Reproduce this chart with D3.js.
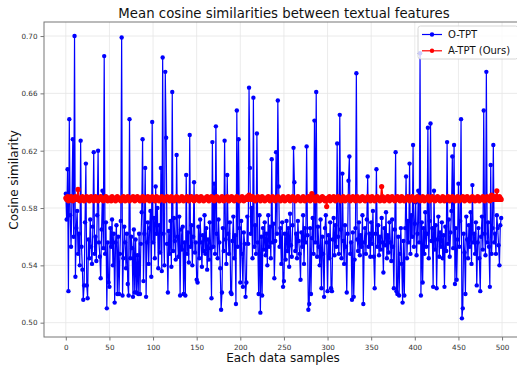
<!DOCTYPE html>
<html><head><meta charset="utf-8">
<script src="https://cdn.jsdelivr.net/npm/d3@7"></script>
<style>body{margin:0;background:#fff}svg{display:block;font-family:"DejaVu Sans",sans-serif}</style>
</head><body><svg id="c" width="517" height="365"></svg>
<script>
const title = "Mean cosine similarities between textual features";
const xLabel = "Each data samples";
const yLabel = "Cosine similarity";
const xTicks = [0,50,100,150,200,250,300,350,400,450,500];
const yTicks = [0.50,0.54,0.58,0.62,0.66,0.70];
const seriesNames = ["O-TPT","A-TPT (Ours)"];
const seriesColors = ["#0000ff","#ff0000"];
const otpt = [
0.590,0.572,0.607,0.522,0.642,0.575,0.553,0.585,0.628,0.560,
0.700,0.532,0.566,0.578,0.548,0.562,0.540,0.627,0.553,0.537,
0.516,0.526,0.570,0.611,0.526,0.517,0.558,0.545,0.572,0.553,
0.541,0.567,0.619,0.548,0.560,0.543,0.575,0.620,0.556,0.546,
0.531,0.565,0.592,0.552,0.686,0.548,0.570,0.510,0.556,0.528,
0.525,0.566,0.553,0.572,0.540,0.562,0.514,0.556,0.568,0.520,
0.560,0.520,0.548,0.571,0.699,0.519,0.545,0.567,0.556,0.538,
0.562,0.527,0.519,0.642,0.545,0.560,0.552,0.518,0.565,0.521,
0.558,0.521,0.547,0.520,0.562,0.520,0.555,0.577,0.628,0.529,
0.562,0.608,0.518,0.556,0.570,0.541,0.566,0.578,0.532,0.640,
0.556,0.573,0.545,0.595,0.562,0.580,0.538,0.568,0.549,0.608,
0.536,0.685,0.562,0.540,0.675,0.629,0.555,0.521,0.564,0.548,
0.571,0.539,0.661,0.550,0.573,0.557,0.544,0.617,0.560,0.546,
0.574,0.519,0.565,0.551,0.567,0.520,0.556,0.519,0.603,0.548,
0.563,0.542,0.631,0.553,0.568,0.540,0.560,0.598,0.549,0.556,
0.530,0.528,0.567,0.545,0.572,0.556,0.539,0.561,0.550,0.575,
0.548,0.566,0.537,0.558,0.544,0.570,0.552,0.517,0.626,0.553,
0.597,0.548,0.637,0.562,0.545,0.572,0.556,0.538,0.509,0.521,
0.566,0.550,0.627,0.558,0.541,0.603,0.562,0.548,0.570,0.521,
0.520,0.557,0.574,0.545,0.561,0.513,0.648,0.553,0.628,0.566,
0.528,0.571,0.548,0.525,0.563,0.555,0.518,0.528,0.574,0.555,
0.664,0.608,0.562,0.580,0.545,0.657,0.553,0.568,0.548,0.632,
0.556,0.520,0.575,0.507,0.560,0.519,0.566,0.551,0.570,0.547,
0.562,0.540,0.575,0.553,0.567,0.545,0.614,0.556,0.569,0.531,
0.557,0.619,0.562,0.655,0.595,0.553,0.566,0.541,0.570,0.525,
0.529,0.562,0.544,0.571,0.550,0.566,0.539,0.576,0.554,0.546,
0.568,0.622,0.598,0.550,0.562,0.545,0.571,0.557,0.548,0.530,
0.563,0.553,0.575,0.541,0.566,0.556,0.623,0.561,0.509,0.513,
0.566,0.520,0.559,0.573,0.548,0.641,0.556,0.661,0.546,0.567,
0.553,0.540,0.572,0.524,0.560,0.548,0.518,0.566,0.575,0.556,
0.522,0.561,0.545,0.570,0.524,0.522,0.558,0.573,0.547,0.568,
0.553,0.625,0.560,0.548,0.645,0.565,0.545,0.604,0.557,0.541,
0.568,0.553,0.521,0.562,0.599,0.616,0.548,0.556,0.516,0.563,
0.518,0.544,0.566,0.674,0.558,0.550,0.570,0.547,0.561,0.553,
0.575,0.513,0.556,0.566,0.548,0.572,0.602,0.553,0.562,0.546,
0.570,0.555,0.578,0.546,0.524,0.562,0.607,0.553,0.568,0.547,
0.560,0.551,0.573,0.556,0.535,0.566,0.554,0.577,0.545,0.561,
0.549,0.570,0.556,0.543,0.572,0.553,0.524,0.565,0.619,0.522,
0.520,0.560,0.519,0.548,0.566,0.541,0.514,0.557,0.519,0.566,
0.602,0.545,0.571,0.556,0.611,0.548,0.575,0.560,0.624,0.553,
0.569,0.584,0.547,0.562,0.592,0.556,0.688,0.519,0.570,0.528,
0.566,0.548,0.577,0.553,0.562,0.636,0.545,0.571,0.639,0.557,
0.566,0.525,0.592,0.551,0.568,0.524,0.558,0.574,0.546,0.563,
0.553,0.570,0.545,0.561,0.525,0.567,0.550,0.626,0.555,0.572,
0.546,0.563,0.578,0.616,0.552,0.624,0.527,0.566,0.530,0.558,
0.597,0.553,0.571,0.642,0.503,0.510,0.562,0.549,0.520,0.574,
0.558,0.545,0.568,0.553,0.577,0.541,0.596,0.556,0.562,0.548,
0.570,0.526,0.556,0.566,0.545,0.522,0.560,0.574,0.551,0.648,
0.562,0.547,0.675,0.556,0.570,0.553,0.525,0.610,0.548,0.566,
0.624,0.556,0.562,0.548,0.575,0.566,0.554,0.540,0.568,0.573
];
const atpt = [
0.587,0.586,0.588,0.585,0.587,0.586,0.588,0.586,0.585,0.587,
0.586,0.588,0.587,0.586,0.593,0.587,0.585,0.587,0.586,0.588,
0.586,0.585,0.587,0.586,0.588,0.586,0.587,0.585,0.586,0.588,
0.587,0.586,0.585,0.587,0.588,0.586,0.587,0.585,0.587,0.586,
0.588,0.586,0.587,0.585,0.586,0.587,0.588,0.586,0.585,0.587,
0.586,0.587,0.585,0.588,0.586,0.587,0.586,0.585,0.587,0.588,
0.586,0.587,0.586,0.585,0.587,0.586,0.588,0.587,0.585,0.586,
0.587,0.588,0.586,0.585,0.587,0.586,0.587,0.588,0.586,0.585,
0.587,0.586,0.588,0.586,0.587,0.585,0.586,0.587,0.588,0.586,
0.585,0.587,0.586,0.587,0.588,0.586,0.585,0.587,0.586,0.588,
0.586,0.587,0.585,0.586,0.588,0.587,0.586,0.585,0.587,0.586,
0.588,0.586,0.587,0.585,0.586,0.587,0.588,0.586,0.587,0.585,
0.586,0.588,0.587,0.586,0.585,0.587,0.586,0.588,0.586,0.587,
0.585,0.586,0.587,0.588,0.586,0.585,0.587,0.586,0.587,0.588,
0.586,0.585,0.587,0.586,0.588,0.587,0.586,0.585,0.586,0.587,
0.588,0.586,0.587,0.585,0.586,0.588,0.587,0.586,0.585,0.587,
0.586,0.587,0.588,0.586,0.585,0.587,0.586,0.588,0.587,0.586,
0.585,0.587,0.586,0.588,0.586,0.587,0.585,0.586,0.587,0.588,
0.586,0.585,0.587,0.586,0.587,0.588,0.586,0.585,0.587,0.586,
0.588,0.587,0.586,0.585,0.587,0.586,0.588,0.586,0.587,0.585,
0.586,0.587,0.588,0.586,0.585,0.587,0.586,0.587,0.588,0.586,
0.589,0.588,0.587,0.586,0.588,0.587,0.586,0.585,0.587,0.586,
0.588,0.586,0.587,0.585,0.586,0.588,0.587,0.586,0.585,0.587,
0.586,0.587,0.588,0.586,0.585,0.587,0.586,0.588,0.587,0.586,
0.585,0.587,0.586,0.588,0.586,0.587,0.585,0.586,0.587,0.588,
0.586,0.585,0.587,0.586,0.587,0.588,0.586,0.585,0.587,0.586,
0.588,0.587,0.586,0.585,0.587,0.586,0.588,0.586,0.587,0.585,
0.586,0.587,0.588,0.586,0.585,0.587,0.586,0.587,0.588,0.586,
0.585,0.587,0.590,0.588,0.586,0.587,0.585,0.586,0.588,0.587,
0.586,0.585,0.587,0.586,0.588,0.586,0.587,0.585,0.586,0.581,
0.587,0.586,0.588,0.585,0.587,0.586,0.587,0.588,0.586,0.585,
0.587,0.586,0.588,0.586,0.587,0.585,0.586,0.587,0.588,0.586,
0.585,0.587,0.586,0.587,0.588,0.586,0.585,0.587,0.586,0.588,
0.586,0.587,0.585,0.586,0.588,0.587,0.586,0.585,0.587,0.586,
0.588,0.586,0.587,0.585,0.586,0.587,0.588,0.586,0.587,0.585,
0.586,0.588,0.587,0.586,0.585,0.587,0.586,0.588,0.586,0.587,
0.585,0.586,0.595,0.588,0.586,0.585,0.587,0.586,0.587,0.588,
0.586,0.585,0.587,0.586,0.588,0.587,0.586,0.585,0.586,0.587,
0.588,0.586,0.587,0.585,0.586,0.588,0.587,0.586,0.585,0.587,
0.586,0.587,0.588,0.586,0.585,0.587,0.586,0.588,0.587,0.586,
0.585,0.587,0.586,0.588,0.586,0.587,0.585,0.586,0.587,0.588,
0.586,0.585,0.587,0.586,0.587,0.588,0.586,0.585,0.587,0.586,
0.588,0.587,0.586,0.585,0.587,0.586,0.588,0.586,0.587,0.585,
0.586,0.587,0.588,0.586,0.585,0.587,0.586,0.587,0.588,0.586,
0.585,0.587,0.586,0.588,0.586,0.587,0.585,0.586,0.587,0.588,
0.586,0.585,0.587,0.586,0.587,0.588,0.586,0.585,0.587,0.586,
0.588,0.587,0.586,0.585,0.587,0.586,0.588,0.586,0.587,0.585,
0.586,0.587,0.588,0.586,0.585,0.587,0.586,0.587,0.588,0.586,
0.585,0.587,0.586,0.588,0.586,0.587,0.585,0.586,0.589,0.588,
0.586,0.587,0.588,0.586,0.592,0.587,0.586,0.588,0.587,0.586
];

const svg = d3.select("#c");
const L = 44, R = 523, T = 22, B = 337;
const x = d3.scaleLinear().domain([-25, 524]).range([L, R]);
const y = d3.scaleLinear().domain([0.490, 0.7098]).range([B, T]);

// grid
const grid = svg.append("g");
grid.selectAll(".gx").data(xTicks).join("line")
  .attr("x1", d => x(d)).attr("x2", d => x(d)).attr("y1", T).attr("y2", B)
  .attr("stroke", "#e6e6e6").attr("stroke-width", 0.8);
grid.selectAll(".gy").data(yTicks).join("line")
  .attr("y1", d => y(d)).attr("y2", d => y(d)).attr("x1", L).attr("x2", R)
  .attr("stroke", "#e6e6e6").attr("stroke-width", 0.8);

// axes
const xAxis = svg.append("g").attr("transform", `translate(0,${B})`)
  .call(d3.axisBottom(x).tickValues(xTicks).tickSize(3.5).tickSizeOuter(0).tickFormat(d3.format("d")));
const yAxis = svg.append("g").attr("transform", `translate(${L},0)`)
  .call(d3.axisLeft(y).tickValues(yTicks).tickSize(3.5).tickSizeOuter(0).tickFormat(d3.format(".2f")));
[xAxis, yAxis].forEach(a => {
  a.select(".domain").remove();
  a.selectAll("line").attr("stroke", "#555").attr("stroke-width", 0.8);
  a.selectAll("text").attr("fill", "#333").style("font-size", "7.2px").style("font-family", "DejaVu Sans");
});
xAxis.selectAll("text").attr("dy", "0.9em");

// frame
svg.append("rect").attr("x", L).attr("y", T).attr("width", R - L).attr("height", B - T)
  .attr("fill", "none").attr("stroke", "#777").attr("stroke-width", 1);

// series
const line = d3.line().x((d, i) => x(i)).y(d => y(d));
const radii = [2.2, 2.6];
const widths = [1.2, 1.6];
[otpt, atpt].forEach((s, k) => {
  const g = svg.append("g");
  g.append("path").datum(s).attr("d", line).attr("fill", "none")
    .attr("stroke", seriesColors[k]).attr("stroke-width", widths[k]);
  g.selectAll("circle").data(s).join("circle")
    .attr("cx", (d, i) => x(i)).attr("cy", d => y(d)).attr("r", radii[k])
    .attr("fill", seriesColors[k]);
});

// texts
svg.append("text").attr("x", 284).attr("y", 18).attr("text-anchor", "middle")
  .style("font-size", "13.3px").attr("fill", "#111").text(title);
svg.append("text").attr("x", 283).attr("y", 362).attr("text-anchor", "middle")
  .style("font-size", "12px").attr("fill", "#111").text(xLabel);
svg.append("text").attr("transform", "translate(18,180) rotate(-90)").attr("text-anchor", "middle")
  .style("font-size", "12px").attr("fill", "#111").text(yLabel);

// legend
const lg = svg.append("g").attr("transform", "translate(418,26)");
lg.append("rect").attr("width", 100).attr("height", 33).attr("rx", 2.5)
  .attr("fill", "#fff").attr("fill-opacity", 0.8).attr("stroke", "#ccc").attr("stroke-width", 0.8);
seriesNames.forEach((n, k) => {
  const yy = 8.5 + k * 16.3;
  lg.append("line").attr("x1", 4).attr("x2", 24).attr("y1", yy).attr("y2", yy)
    .attr("stroke", seriesColors[k]).attr("stroke-width", 1.2);
  lg.append("circle").attr("cx", 14).attr("cy", yy).attr("r", 2.2).attr("fill", seriesColors[k]);
  lg.append("text").attr("x", 30).attr("y", yy + 3.6).style("font-size", "10px").attr("fill", "#111").text(n);
});
</script></body></html>
